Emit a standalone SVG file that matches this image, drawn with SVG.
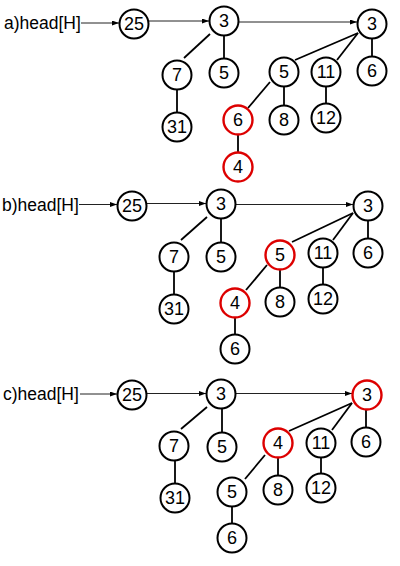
<svg xmlns="http://www.w3.org/2000/svg" width="400" height="566" viewBox="0 0 400 566">
<style>
.n circle{fill:#fff;stroke:#000;stroke-width:2}
.r circle{stroke:#dd0000;stroke-width:2.4}
.n text{font-family:"Liberation Sans",Arial,sans-serif;font-size:18px;text-anchor:middle;fill:#000}
.lbl{font-family:"Liberation Sans",Arial,sans-serif;font-size:17.5px;fill:#000}
.e{stroke:#000;stroke-width:1.8;fill:none}
.a{stroke:#222;stroke-width:1;fill:none;marker-end:url(#ah)}
</style>
<defs>
<marker id="ah" markerUnits="userSpaceOnUse" markerWidth="7" markerHeight="5" refX="7" refY="2.5" orient="auto">
<path d="M0,0 L7,2.5 L0,5 z" fill="#000"/>
</marker>
</defs>
<rect width="400" height="566" fill="#fff"/>

<g id="labels">
<text class="lbl" x="4" y="28.7">a)head[H]</text>
<text class="lbl" x="2" y="210.5">b)head[H]</text>
<text class="lbl" x="3" y="399.8">c)head[H]</text>
</g>

<g id="connectors">
<!-- panel a -->
<line class="a" x1="81" y1="23" x2="119" y2="23"/>
<line class="a" x1="149" y1="21" x2="209" y2="21"/>
<line class="a" x1="239" y1="22" x2="357" y2="22"/>
<line class="e" x1="210" y1="34" x2="184" y2="58"/>
<line class="e" x1="224" y1="36" x2="224" y2="58"/>
<line class="e" x1="177" y1="90" x2="177" y2="112"/>
<line class="e" x1="358" y1="33" x2="295" y2="60"/>
<line class="e" x1="358" y1="33" x2="337" y2="60"/>
<line class="e" x1="372" y1="39" x2="372" y2="56"/>
<line class="e" x1="270" y1="82" x2="248" y2="108"/>
<line class="e" x1="284" y1="87" x2="284" y2="105"/>
<line class="e" x1="326" y1="87" x2="326" y2="103"/>
<line class="e" x1="238" y1="135" x2="238" y2="153"/>
<!-- panel b -->
<line class="a" x1="79" y1="204.5" x2="117" y2="204.5"/>
<line class="a" x1="147" y1="203.5" x2="206" y2="203.5"/>
<line class="a" x1="236" y1="204.5" x2="353" y2="204.5"/>
<line class="e" x1="207" y1="217" x2="181" y2="240"/>
<line class="e" x1="221" y1="219" x2="221" y2="242"/>
<line class="e" x1="174" y1="272" x2="174" y2="294"/>
<line class="e" x1="353" y1="213" x2="292" y2="242"/>
<line class="e" x1="353" y1="213" x2="333" y2="240"/>
<line class="e" x1="368" y1="221" x2="368" y2="238"/>
<line class="e" x1="267" y1="265" x2="246" y2="290"/>
<line class="e" x1="280" y1="270" x2="280" y2="287"/>
<line class="e" x1="323" y1="268" x2="323" y2="284"/>
<line class="e" x1="235" y1="318" x2="235" y2="334"/>
<!-- panel c -->
<line class="a" x1="80" y1="394" x2="117" y2="394"/>
<line class="a" x1="147" y1="393.5" x2="206" y2="393.5"/>
<line class="a" x1="236" y1="393.5" x2="352" y2="393.5"/>
<line class="e" x1="207" y1="407" x2="181" y2="429"/>
<line class="e" x1="222" y1="409" x2="222" y2="432"/>
<line class="e" x1="175" y1="461" x2="175" y2="483"/>
<line class="e" x1="352" y1="403" x2="289" y2="431"/>
<line class="e" x1="352" y1="403" x2="332" y2="430"/>
<line class="e" x1="366" y1="410" x2="366" y2="427"/>
<line class="e" x1="265" y1="455" x2="245" y2="479"/>
<line class="e" x1="278" y1="458" x2="278" y2="475"/>
<line class="e" x1="321" y1="458" x2="321" y2="473"/>
<line class="e" x1="232" y1="507" x2="232" y2="523"/>
</g>

<!-- panel a nodes -->
<g id="a25" class="n"><circle cx="134" cy="24" r="14.5"/><text x="134" y="30.4">25</text></g>
<g id="a3" class="n"><circle cx="224" cy="21" r="14.5"/><text x="224" y="27.4">3</text></g>
<g id="a3b" class="n"><circle cx="372" cy="24" r="14.5"/><text x="372" y="30.4">3</text></g>
<g id="a7" class="n"><circle cx="177" cy="75" r="14.5"/><text x="177" y="81.4">7</text></g>
<g id="a31" class="n"><circle cx="177" cy="127" r="14.5"/><text x="177" y="133.4">31</text></g>
<g id="a5" class="n"><circle cx="224" cy="73" r="14.5"/><text x="224" y="79.4">5</text></g>
<g id="a5b" class="n"><circle cx="284" cy="72" r="14.5"/><text x="284" y="78.4">5</text></g>
<g id="a11" class="n"><circle cx="326" cy="72" r="14.5"/><text x="326" y="78.4">11</text></g>
<g id="a6" class="n"><circle cx="372" cy="71" r="14.5"/><text x="372" y="77.4">6</text></g>
<g id="a6r" class="n r"><circle cx="238" cy="120" r="14.5"/><text x="238" y="126.4">6</text></g>
<g id="a8" class="n"><circle cx="284" cy="120" r="14.5"/><text x="284" y="126.4">8</text></g>
<g id="a12" class="n"><circle cx="326" cy="118" r="14.5"/><text x="326" y="124.4">12</text></g>
<g id="a4r" class="n r"><circle cx="238" cy="167" r="14.5"/><text x="238" y="173.4">4</text></g>

<!-- panel b nodes -->
<g id="b25" class="n"><circle cx="132" cy="206" r="14.5"/><text x="132" y="212.4">25</text></g>
<g id="b3" class="n"><circle cx="221" cy="204" r="14.5"/><text x="221" y="210.4">3</text></g>
<g id="b3b" class="n"><circle cx="368" cy="206" r="14.5"/><text x="368" y="212.4">3</text></g>
<g id="b7" class="n"><circle cx="174" cy="257" r="14.5"/><text x="174" y="263.4">7</text></g>
<g id="b31" class="n"><circle cx="174" cy="309" r="14.5"/><text x="174" y="315.4">31</text></g>
<g id="b5" class="n"><circle cx="221" cy="257" r="14.5"/><text x="221" y="263.4">5</text></g>
<g id="b5r" class="n r"><circle cx="280" cy="255" r="14.5"/><text x="280" y="261.4">5</text></g>
<g id="b11" class="n"><circle cx="323" cy="253" r="14.5"/><text x="323" y="259.4">11</text></g>
<g id="b6" class="n"><circle cx="368" cy="253" r="14.5"/><text x="368" y="259.4">6</text></g>
<g id="b4r" class="n r"><circle cx="235" cy="303" r="14.5"/><text x="235" y="309.4">4</text></g>
<g id="b8" class="n"><circle cx="280" cy="302" r="14.5"/><text x="280" y="308.4">8</text></g>
<g id="b12" class="n"><circle cx="323" cy="299" r="14.5"/><text x="323" y="305.4">12</text></g>
<g id="b6b" class="n"><circle cx="235" cy="349" r="14.5"/><text x="235" y="355.4">6</text></g>

<!-- panel c nodes -->
<g id="c25" class="n"><circle cx="132" cy="395" r="14.5"/><text x="132" y="401.4">25</text></g>
<g id="c3" class="n"><circle cx="221" cy="394" r="14.5"/><text x="221" y="400.4">3</text></g>
<g id="c3r" class="n r"><circle cx="367" cy="395" r="14.5"/><text x="367" y="401.4">3</text></g>
<g id="c7" class="n"><circle cx="174" cy="446" r="14.5"/><text x="174" y="452.4">7</text></g>
<g id="c31" class="n"><circle cx="175" cy="498" r="14.5"/><text x="175" y="504.4">31</text></g>
<g id="c5" class="n"><circle cx="222" cy="447" r="14.5"/><text x="222" y="453.4">5</text></g>
<g id="c4r" class="n r"><circle cx="278" cy="443" r="14.5"/><text x="278" y="449.4">4</text></g>
<g id="c11" class="n"><circle cx="321" cy="443" r="14.5"/><text x="321" y="449.4">11</text></g>
<g id="c6" class="n"><circle cx="366" cy="442" r="14.5"/><text x="366" y="448.4">6</text></g>
<g id="c5b" class="n"><circle cx="232" cy="492" r="14.5"/><text x="232" y="498.4">5</text></g>
<g id="c8" class="n"><circle cx="278" cy="490" r="14.5"/><text x="278" y="496.4">8</text></g>
<g id="c12" class="n"><circle cx="321" cy="488" r="14.5"/><text x="321" y="494.4">12</text></g>
<g id="c6b" class="n"><circle cx="232" cy="538" r="14.5"/><text x="232" y="544.4">6</text></g>
</svg>
